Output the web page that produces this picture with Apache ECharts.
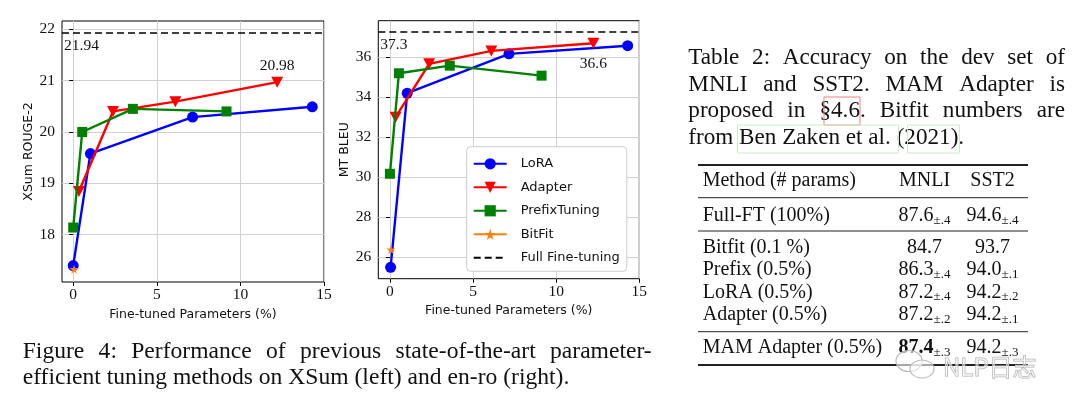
<!DOCTYPE html>
<html><head><meta charset="utf-8">
<script src="https://cdn.jsdelivr.net/npm/echarts@6/dist/echarts.min.js"></script>
<style>html,body{margin:0;padding:0;background:#fff}#c{width:1080px;height:415px}</style>
</head><body><div id="c"></div>
<script>
// ---------------- DATA ----------------
const xTicks = [0, 5, 10, 15];
const xsumYTicks = [18, 19, 20, 21, 22];
const bleuYTicks = [26, 28, 30, 32, 34, 36];
const seriesNames = ['LoRA', 'Adapter', 'PrefixTuning', 'BitFit', 'Full Fine-tuning'];

// XSum (left)
const xsumLoraX = [0, 1.03, 7.14, 14.3];
const xsumLoraY = [17.40, 19.58, 20.29, 20.49];
const xsumAdapterX = [0.34, 2.38, 6.11, 12.2];
const xsumAdapterY = [18.84, 20.40, 20.59, 20.97];
const xsumPrefixX = [0, 0.54, 3.57, 9.17];
const xsumPrefixY = [18.14, 20.0, 20.45, 20.40];
const xsumBitfitX = [0.05];
const xsumBitfitY = [17.33];
const xsumFullFT = 21.94;
const xsumAnnot = '20.98';

// en-ro BLEU (right)
const bleuLoraX = [0.04, 1.04, 7.16, 14.3];
const bleuLoraY = [25.49, 34.2, 36.17, 36.58];
const bleuAdapterX = [0.34, 2.36, 6.1, 12.24];
const bleuAdapterY = [33.0, 35.67, 36.32, 36.7];
const bleuPrefixX = [0, 0.54, 3.6, 9.12];
const bleuPrefixY = [30.17, 35.2, 35.58, 35.08];
const bleuBitfitX = [0.06];
const bleuBitfitY = [26.38];
const bleuFullFT = 37.3;
const bleuAnnot = '36.6';

// Table
const tableHeader = ['Method (# params)', 'MNLI', 'SST2'];
const tableMethods = ['Full-FT (100%)', 'Bitfit (0.1 %)', 'Prefix (0.5%)', 'LoRA (0.5%)', 'Adapter (0.5%)', 'MAM Adapter (0.5%)'];
const mnliVals = ['87.6', '84.7', '86.3', '87.2', '87.2', '87.4'];
const mnliStd = ['±.4', '', '±.4', '±.4', '±.2', '±.3'];
const sst2Vals = ['94.6', '93.7', '94.0', '94.2', '94.2', '94.2'];
const sst2Std = ['±.4', '', '±.1', '±.2', '±.1', '±.3'];
const mnliBold = [false, false, false, false, false, true];

const tableCaption = [
  'Table 2:  Accuracy on the dev set of',
  'MNLI and SST2.  MAM Adapter is',
  'proposed in §4.6.  Bitfit numbers are',
  'from Ben Zaken et al. (2021).'
];
const figCaption = [
  'Figure 4:  Performance of previous state-of-the-art parameter-',
  'efficient tuning methods on XSum (left) and en-ro (right).'
];
const watermark = 'NLP日志';

// ---------------- STYLE ----------------
const C = { lora: '#0000ff', adapter: '#ff0000', prefix: '#008000', bitfit: '#ff7f0e', full: '#000000' };
const SERIF = 'Liberation Serif';
const SANS = 'DejaVu Sans';
const TICK_FS = 15.5;
const NAME_FS = 12.5;
const triDown = 'path://M0,0 L10,0 L5,9 Z';
const star = 'path://M50,0 L61,35 L98,35 L68,57 L79,91 L50,70 L21,91 L32,57 L2,35 L39,35 Z';

const zip = (xs, ys) => xs.map((x, i) => [x, ys[i]]);

function xAxis(gi, min) {
  return {
    gridIndex: gi, type: 'value', min: min, max: 15,
    name: 'Fine-tuned Parameters (%)', nameLocation: 'middle', nameGap: 24,
    nameTextStyle: { fontFamily: SANS, fontSize: NAME_FS, color: '#111' },
    axisLine: { show: false },
    axisTick: { show: true, inside: false, length: 4, lineStyle: { color: '#000' }, customValues: xTicks },
    axisLabel: { customValues: xTicks, fontFamily: SERIF, fontSize: TICK_FS, color: '#111', margin: 5 },
    splitLine: { show: true, lineStyle: { color: '#d0d0d0', width: 1 } }
  };
}
function yAxis(gi, min, max, ticks, name, gap) {
  return {
    gridIndex: gi, type: 'value', min: min, max: max,
    name: name, nameLocation: 'middle', nameGap: gap,
    nameTextStyle: { fontFamily: SANS, fontSize: NAME_FS, color: '#111' },
    axisLine: { show: false },
    axisTick: { show: true, inside: false, length: 4, lineStyle: { color: '#000' }, customValues: ticks },
    axisLabel: { customValues: ticks, fontFamily: SERIF, fontSize: TICK_FS, color: '#111', margin: 7 },
    splitLine: { show: true, lineStyle: { color: '#d0d0d0', width: 1 } }
  };
}
function lineSeries(name, gi, data, color, symbol, size, z) {
  return {
    name: name, type: 'line', xAxisIndex: gi, yAxisIndex: gi, data: data,
    symbol: symbol, symbolSize: size, showSymbol: true,
    lineStyle: { color: color, width: 2.4 }, itemStyle: { color: color },
    z: z, animation: false
  };
}
function fullSeries(gi, value) {
  return {
    name: 'Full Fine-tuning', type: 'line', xAxisIndex: gi, yAxisIndex: gi, data: [],
    symbol: 'none', lineStyle: { color: C.full, width: 1.5, type: [7, 4] }, itemStyle: { color: C.full },
    animation: false,
    markLine: {
      silent: true, symbol: ['none', 'none'], animation: false,
      lineStyle: { color: C.full, width: 1.5, type: [7, 4] },
      label: { show: true, position: 'insideStartBottom', formatter: String(value),
               fontFamily: SERIF, fontSize: TICK_FS, color: '#111', distance: [2, 6] },
      data: [{ yAxis: value }]
    }
  };
}
function annotate(data, idx, text, pos, dist) {
  const d = data.slice();
  d[idx] = { value: d[idx], label: { show: true, position: pos, distance: dist, formatter: text,
              fontFamily: SERIF, fontSize: TICK_FS, color: '#111' } };
  return d;
}

const series = [
  lineSeries('LoRA', 0, zip(xsumLoraX, xsumLoraY), C.lora, 'circle', 11, 3),
  lineSeries('Adapter', 0, annotate(zip(xsumAdapterX, xsumAdapterY), 3, xsumAnnot, 'top', 3), C.adapter, triDown, [12, 11], 4),
  lineSeries('PrefixTuning', 0, zip(xsumPrefixX, xsumPrefixY), C.prefix, 'rect', 10, 5),
  lineSeries('BitFit', 0, zip(xsumBitfitX, xsumBitfitY), C.bitfit, star, 9, 6),
  fullSeries(0, xsumFullFT),
  lineSeries('LoRA', 1, zip(bleuLoraX, bleuLoraY), C.lora, 'circle', 11, 3),
  lineSeries('Adapter', 1, annotate(zip(bleuAdapterX, bleuAdapterY), 3, bleuAnnot, 'bottom', 7), C.adapter, triDown, [12, 11], 4),
  lineSeries('PrefixTuning', 1, zip(bleuPrefixX, bleuPrefixY), C.prefix, 'rect', 10, 5),
  lineSeries('BitFit', 1, zip(bleuBitfitX, bleuBitfitY), C.bitfit, star, 9, 6),
  fullSeries(1, bleuFullFT)
];

// ---------------- TEXT / TABLE GRAPHICS ----------------
const mctx = document.createElement('canvas').getContext('2d');
function tw(s, font) { mctx.font = font; return mctx.measureText(s).width; }
const TXT = '#111';
const graphics = [];
function addText(str, x, y, size, opts) {
  opts = opts || {};
  graphics.push({ type: 'text', x: x, y: y, silent: true,
    style: { text: str, font: (opts.bold ? 'bold ' : '') + size + 'px "' + SERIF + '"',
             fill: opts.fill || TXT, align: opts.align || 'left', verticalAlign: 'middle' } });
}
function justify(line, x0, x1, y, size) {
  const words = line.split(/\s+/);
  const font = size + 'px "' + SERIF + '"';
  const widths = words.map(w => tw(w, font));
  const sum = widths.reduce((a, b) => a + b, 0);
  const gap = (x1 - x0 - sum) / (words.length - 1);
  let x = x0;
  words.forEach((w, i) => { addText(w, x, y, size); x += widths[i] + gap; });
}
function fitSize(str, width) { return 20 * width / tw(str, '20px "' + SERIF + '"'); }

// Table caption
const tcSize = fitSize(tableCaption[3], 276);
const tcY = [58, 84.7, 111.3, 138];
for (let i = 0; i < 3; i++) justify(tableCaption[i], 688.3, 1065, tcY[i], tcSize);
addText(tableCaption[3], 688.3, tcY[3], tcSize);

// link boxes
graphics.push({ type: 'rect', silent: true, shape: { x: 824, y: 97, width: 36, height: 28 },
  style: { fill: 'none', stroke: '#f08080', lineWidth: 1 } });
graphics.push({ type: 'rect', silent: true, shape: { x: 737.5, y: 125, width: 161, height: 28 },
  style: { fill: 'none', stroke: '#c8eec8', lineWidth: 1 } });
graphics.push({ type: 'rect', silent: true, shape: { x: 907.5, y: 125, width: 52, height: 28 },
  style: { fill: 'none', stroke: '#c8eec8', lineWidth: 1 } });

// Figure caption
const fcSize = fitSize(figCaption[1], 547);
justify(figCaption[0], 22.7, 651.7, 351.5, fcSize);
addText(figCaption[1], 22.7, 377.5, fcSize);

// Table body
const tSize = 20, sSize = 13;
const rules = [[165, 1.8], [197.7, 1], [231, 1], [331.7, 1], [365, 1.8]];
rules.forEach(r => graphics.push({ type: 'line', silent: true,
  shape: { x1: 698, y1: r[0], x2: 1028, y2: r[0] }, style: { stroke: '#222', lineWidth: r[1] } }));
const colX = [702.7, 924.5, 992.5];
addText(tableHeader[0], colX[0], 181, tSize);
addText(tableHeader[1], colX[1], 181, tSize, { align: 'center' });
addText(tableHeader[2], colX[2], 181, tSize, { align: 'center' });
const rowY = [216, 247.7, 270, 292.3, 315, 347.7];
function cell(val, std, cx, y, bold) {
  const mainFont = (bold ? 'bold ' : '') + tSize + 'px "' + SERIF + '"';
  const wn = tw(val, mainFont);
  const ws = std ? tw(std, sSize + 'px "' + SERIF + '"') : 0;
  const x0 = cx - (wn + ws) / 2;
  addText(val, x0, y, tSize, { bold: bold });
  if (std) addText(std, x0 + wn, y + 4.5, sSize);
}
tableMethods.forEach((m, i) => {
  addText(m, colX[0], rowY[i], tSize);
  cell(mnliVals[i], mnliStd[i], colX[1], rowY[i], mnliBold[i]);
  cell(sst2Vals[i], sst2Std[i], colX[2], rowY[i], false);
});

// Watermark
graphics.push({ type: 'ellipse', silent: true, shape: { cx: 909, cy: 361, rx: 13, ry: 10.5 },
  style: { fill: 'rgba(255,255,255,0.6)', stroke: '#bbbbbb', lineWidth: 1.2 } });
graphics.push({ type: 'ellipse', silent: true, shape: { cx: 922, cy: 369, rx: 12, ry: 9 },
  style: { fill: 'rgba(255,255,255,0.6)', stroke: '#bbbbbb', lineWidth: 1.2 } });
graphics.push({ type: 'text', silent: true, x: 943, y: 367,
  style: { text: watermark, font: '24px "Noto Sans CJK SC"', fill: 'rgba(255,255,255,0.5)',
           stroke: '#b0b0b0', lineWidth: 1, align: 'left', verticalAlign: 'middle' } });

// ---------------- CHART ----------------
const legendData = seriesNames.map(n => n === 'Full Fine-tuning'
  ? { name: n, itemStyle: { color: 'rgba(0,0,0,0)', borderColor: 'rgba(0,0,0,0)', borderWidth: 0 } }
  : { name: n });

const chart = echarts.init(document.getElementById('c'), null, { renderer: 'canvas' });
chart.setOption({
  animation: false,
  backgroundColor: '#fff',
  grid: [
    { left: 62, top: 21, width: 262, height: 261, show: true, borderColor: '#000', borderWidth: 1, backgroundColor: 'transparent' },
    { left: 378.3, top: 20.7, width: 261, height: 258, show: true, borderColor: '#000', borderWidth: 1, backgroundColor: 'transparent' }
  ],
  xAxis: [xAxis(0, -0.67), xAxis(1, -0.7)],
  yAxis: [
    yAxis(0, 17.08, 22.16, xsumYTicks, 'XSum ROUGE-2', 27),
    yAxis(1, 24.92, 37.83, bleuYTicks, 'MT BLEU', 27)
  ],
  legend: {
    data: legendData, orient: 'vertical', left: 466.7, top: 146.7,
    itemWidth: 33, itemHeight: 14, itemGap: 10.5, padding: [10.6, 7, 7, 6],
    backgroundColor: '#fff', borderColor: '#cccccc', borderWidth: 1, borderRadius: 4,
    selectedMode: false,
    textStyle: { fontFamily: SANS, fontSize: 13, color: '#111', padding: [0, 0, 0, 9] }
  },
  series: series,
  graphic: graphics
});
</script>
</body></html>
